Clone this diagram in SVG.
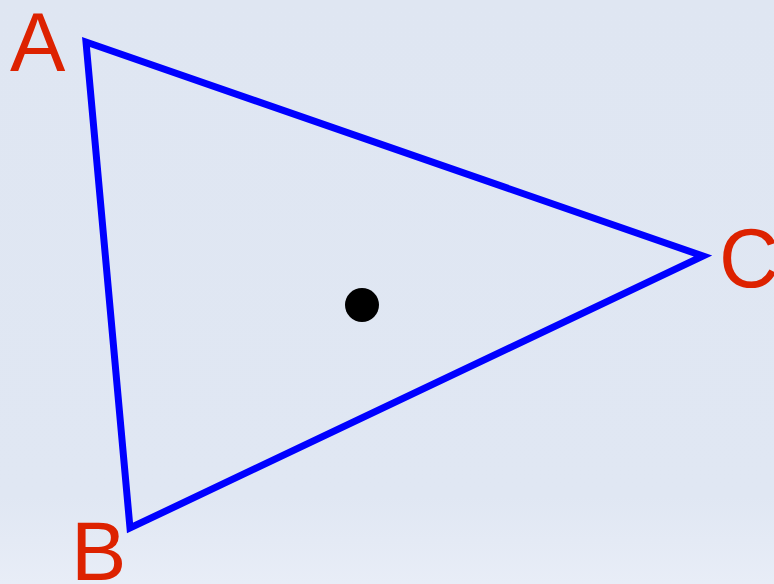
<svg xmlns="http://www.w3.org/2000/svg" width="774" height="584" viewBox="0 0 774 584">
<defs>
<linearGradient id="bg" x1="0" y1="0" x2="0" y2="1">
<stop offset="0" stop-color="#dfe6f2"/>
<stop offset="0.85" stop-color="#e0e7f3"/>
<stop offset="1" stop-color="#e8edf7"/>
</linearGradient>
</defs>
<style>
.lbl{font-family:"Liberation Sans",Arial,sans-serif;font-size:83px;fill:#dd2200}
</style>
<rect width="774" height="584" fill="url(#bg)"/>
<g id="connectors">
<polygon points="86,42 130,528 703,256" fill="none" stroke="#0000ff" stroke-width="7" stroke-linejoin="miter" stroke-miterlimit="10"/>
</g>
<g id="center"><circle cx="362" cy="305" r="17" fill="#000"/></g>
<g id="A"><text class="lbl" x="10" y="71">A</text></g>
<g id="B"><text class="lbl" x="71" y="580">B</text></g>
<g id="C"><text class="lbl" x="719" y="287">C</text></g>
</svg>
